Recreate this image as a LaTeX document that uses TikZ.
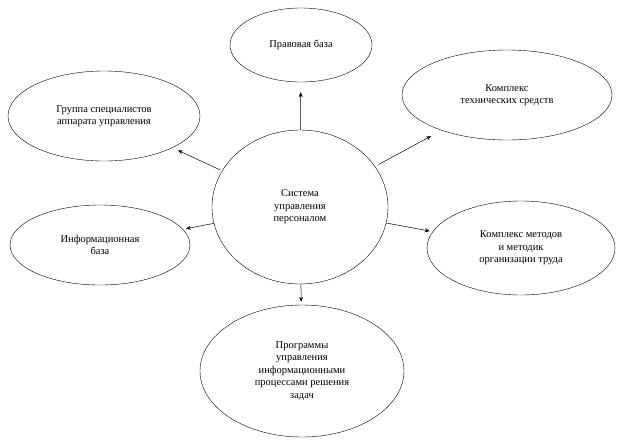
\documentclass[tikz,border=0pt]{standalone}
\usepackage{fontspec}
\setmainfont{Liberation Serif}
\usetikzlibrary{shapes.geometric,arrows.meta}
\begin{document}
\begin{tikzpicture}[x=1pt,y=-1pt,
  ell/.style={draw,ellipse,inner sep=0pt,align=center,font=\fontsize{10.5}{12.5}\selectfont},
  arr/.style={-{Stealth[length=5pt,width=4pt]},line width=0.5pt}]
\useasboundingbox (0,0) rectangle (624,445);
\node[ell,minimum width=176,minimum height=154] (c) at (300,207) {Система\\управления\\персоналом};
\node[ell,minimum width=142,minimum height=74] (t) at (301,45) {Правовая база};
\node[ell,minimum width=192,minimum height=90] (lt) at (104,116) {Группа специалистов\\аппарата управления};
\node[ell,minimum width=210,minimum height=90] (rt) at (507,95) {Комплекс\\технических средств};
\node[ell,minimum width=180,minimum height=80] (lm) at (100,245) {Информационная\\база};
\node[ell,minimum width=188,minimum height=94] (rm) at (521,248) {Комплекс методов\\и методик\\организации труда};
\node[ell,minimum width=204,minimum height=132] (b) at (302,371) {Программы\\управления\\информационными\\процессами решения\\задач};
\draw[arr,shorten >=10pt] (c) -- (t);
\draw[arr,shorten >=6pt,shorten <=2pt] (c) -- (lt);
\draw[arr,shorten >=12pt,shorten <=4pt] (c) -- (rt);
\draw[arr,shorten >=3pt] (c) -- (lm);
\draw[arr,shorten >=3pt] (c) -- (rm);
\draw[arr,shorten >=3pt] (c) -- (b);
\end{tikzpicture}
\end{document}
